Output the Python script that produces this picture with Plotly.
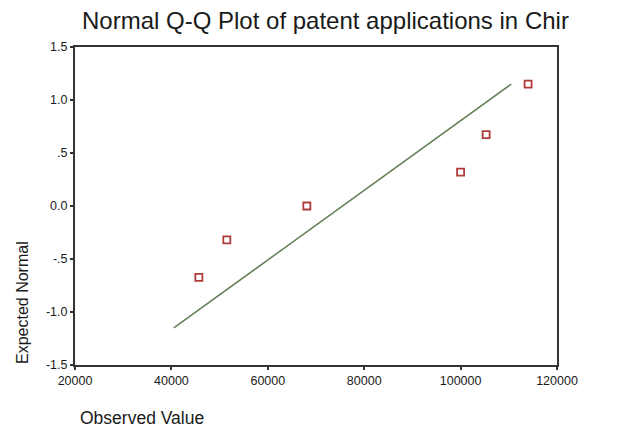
import plotly.graph_objects as go

# Data
observed = [45700, 51500, 68100, 100000, 105300, 114000]
expected = [-0.674, -0.319, 0.0, 0.319, 0.674, 1.15]
line_x = [40500, 110500]
line_y = [-1.15, 1.15]

x_ticks = [20000, 40000, 60000, 80000, 100000, 120000]
x_ticktext = ["20000", "40000", "60000", "80000", "100000", "120000"]
y_ticks = [1.5, 1.0, 0.5, 0.0, -0.5, -1.0, -1.5]
y_ticktext = ["1.5", "1.0", ".5", "0.0", "-.5", "-1.0", "-1.5"]

# the page body has an 8px default margin, so the figure is drawn 8px in
OFF = 8
W, H = 619 - OFF, 432 - OFF
ml, mr, mt, mb = 75 - OFF, 62, 47 - OFF, 432 - 365
pw, ph = W - ml - mr, H - mt - mb

def px_x(p):  # screen px -> paper
    return (p - OFF - ml) / pw

def px_y(p):
    return (H - mb - (p - OFF)) / ph

fig = go.Figure()
fig.add_trace(go.Scatter(x=line_x, y=line_y, mode="lines",
                         line=dict(color="#647f58", width=1.5), showlegend=False))
fig.add_trace(go.Scatter(x=observed, y=expected, mode="markers",
                         marker=dict(symbol="square-open", size=7, color="#b03a3a",
                                     line=dict(width=1.8, color="#b03a3a")),
                         showlegend=False))

axis_common = dict(showgrid=False, zeroline=False, showline=True, linecolor="#333333",
                   linewidth=2, mirror=True, ticks="outside", ticklen=3, tickwidth=2,
                   tickcolor="#333333", tickfont=dict(size=12.5, color="#1a1a1a"))

fig.update_layout(
    width=W, height=H,
    margin=dict(l=ml, r=mr, t=mt, b=mb),
    paper_bgcolor="white", plot_bgcolor="white",
    font=dict(family="Liberation Sans, Arial, sans-serif", color="#1a1a1a"),
    title=dict(text="Normal Q-Q Plot of patent applications in Chir",
               x=(82 - OFF) / W, xanchor="left", xref="container",
               y=1 - (20.5 - OFF) / H, yanchor="middle",
               font=dict(size=24, color="#1a1a1a")),
    xaxis=dict(range=[20000, 120000], tickvals=x_ticks, ticktext=x_ticktext, **axis_common),
    yaxis=dict(range=[-1.5, 1.5], tickvals=y_ticks, ticktext=y_ticktext, **axis_common),
    annotations=[
        dict(text="Expected Normal", xref="paper", yref="paper",
             x=px_x(22), y=px_y(303), xanchor="center", yanchor="middle",
             textangle=-90, showarrow=False, font=dict(size=16, color="#1a1a1a")),
        dict(text="Observed Value", xref="paper", yref="paper",
             x=px_x(78), y=px_y(418), xanchor="left", yanchor="middle",
             showarrow=False, font=dict(size=17.5, color="#1a1a1a")),
    ],
)

fig.write_html("out.html")
